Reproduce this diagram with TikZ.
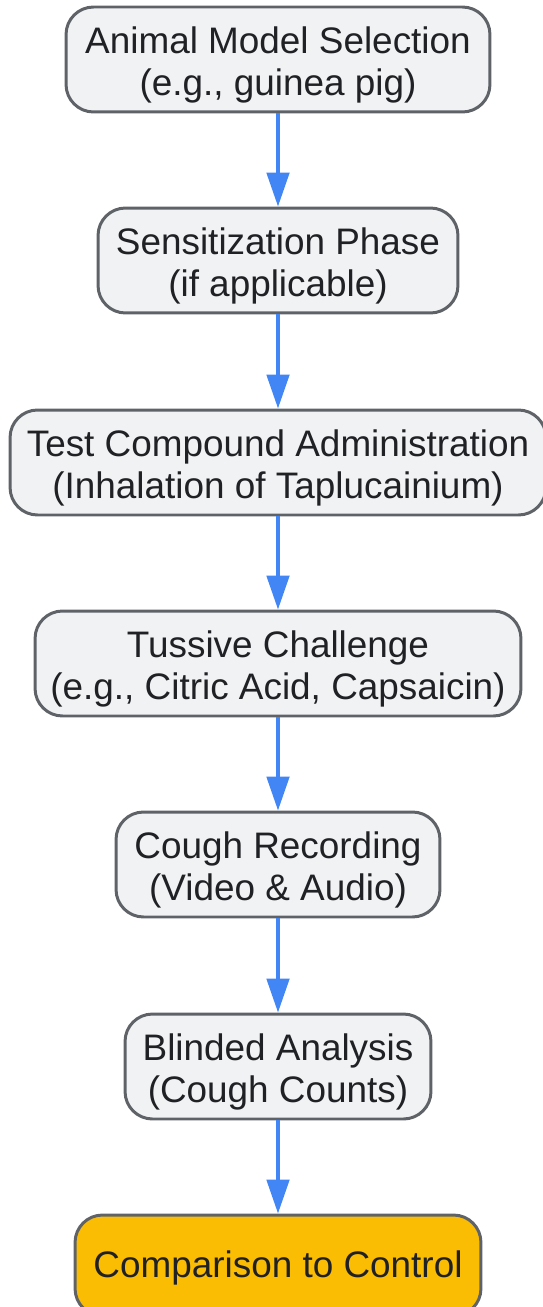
\documentclass[tikz,border=0pt]{standalone}
\usepackage{fontspec}
\setmainfont{Liberation Sans}
\usetikzlibrary{arrows.meta}

\definecolor{boxfill}{HTML}{F1F2F4}
\definecolor{boxline}{HTML}{5F6368}
\definecolor{flowblue}{HTML}{4285F4}
\definecolor{goalfill}{HTML}{FBBC04}
\definecolor{txtgray}{HTML}{202124}

\tikzset{
  stage/.style={draw=boxline, fill=boxfill, line width=1.7pt,
    rounded corners=0.55cm, align=center, text=txtgray, inner sep=0pt,
    minimum height=2.1cm, text height=41.5pt, text depth=0pt,
    font=\fontsize{21}{24}\selectfont},
  goal/.style={stage, fill=goalfill, text height=15pt, text depth=1pt},
  flow/.style={draw=flowblue, line width=2pt,
    -{Triangle[length=0.68cm,width=0.45cm]}}
}

\begin{document}
\begin{tikzpicture}[x=0.02cm,y=-0.02cm]
        \useasboundingbox (0,0) rectangle (543,1307);
        \pgfmathsetmacro\cx{278}
        \node[stage, minimum width=8.48cm] (select) at (\cx,59.5) {Animal Model Selection\\(e.g., guinea pig)};
        \node[stage, minimum width=7.2cm] (sensit) at (\cx,260.5) {Sensitization Phase\\(if applicable)};
        \node[stage, minimum width=10.72cm] (dosing) at (\cx,462.5) {Test Compound Administration\\(Inhalation of Taplucainium)};
        \node[stage, minimum width=9.72cm] (challenge) at (\cx,663.5) {Tussive Challenge\\(e.g., Citric Acid, Capsaicin)};
        \node[stage, minimum width=6.48cm] (record) at (\cx,864.5) {Cough Recording\\(Video \& Audio)};
        \node[stage, minimum width=6.12cm] (analysis) at (\cx,1066.5) {Blinded Analysis\\(Cough Counts)};
        \node[goal, minimum width=8.12cm, minimum height=2.02cm] (compare) at (\cx,1265.5) {Comparison to Control};
        \draw[flow] (select) -- (sensit);
        \draw[flow] (sensit) -- (dosing);
        \draw[flow] (dosing) -- (challenge);
        \draw[flow] (challenge) -- (record);
        \draw[flow] (record) -- (analysis);
        \draw[flow] (analysis) -- (compare);
\end{tikzpicture}
\end{document}
